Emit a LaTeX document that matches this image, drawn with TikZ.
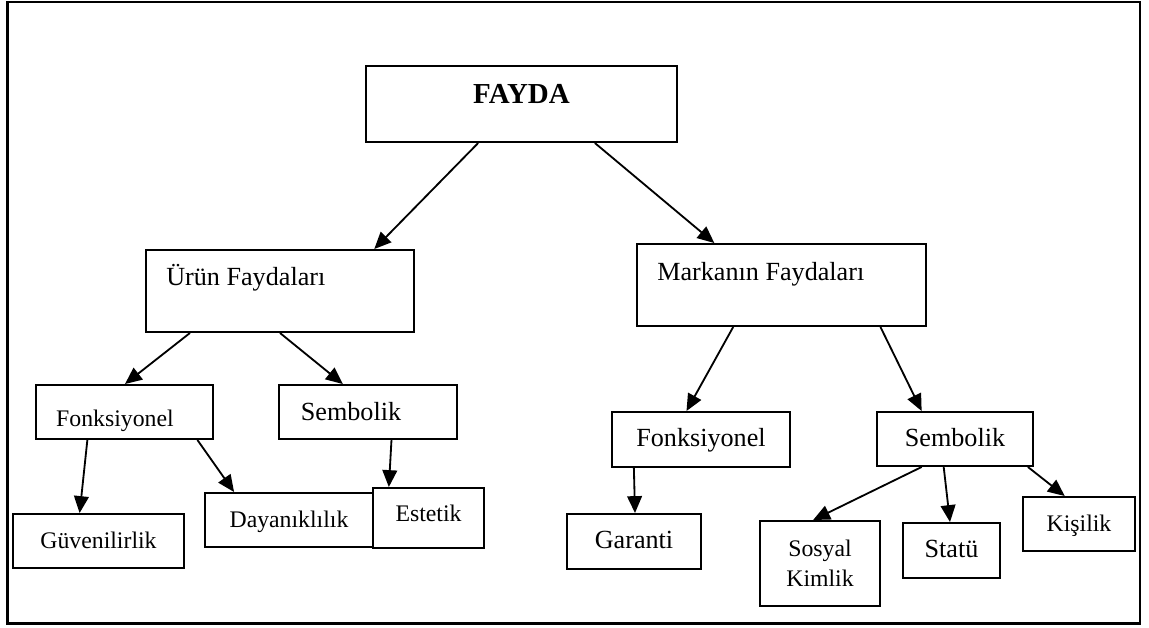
\documentclass[tikz,border=0pt]{standalone}
\usepackage{fontspec}
\setmainfont{Liberation Serif}
\usepackage{tikz}
\usetikzlibrary{arrows.meta}

\newlength{\pxl}
\setlength{\pxl}{0.025cm}
\newcommand{\fbig}{\fontsize{18.6}{22}\selectfont}
\newcommand{\fsmall}{\fontsize{16.9}{21.3}\selectfont}

\tikzset{
	box/.style={draw, line width=1.4pt, inner sep=0pt, text height=10pt, text depth=0pt},
	lbl/.style={inner sep=0pt},
	arr/.style={-{Triangle[length=12pt,width=10.5pt]}, line width=1.3pt}
}

\begin{document}
\begin{tikzpicture}[x=0.025cm, y=-0.025cm]
			\useasboundingbox (0,0) rectangle (1149,628);
			\draw[line width=1.6pt] (7.5,2) rectangle (1140,623.5);
			%
			\node[box, minimum width=311\pxl, minimum height=76\pxl,
				label={[lbl, font=\fontsize{20.6}{24}\selectfont\bfseries, yshift=9.6\pxl]center:FAYDA}]
				(fayda) at (521.5,104) {};
			\node[box, minimum width=268\pxl, minimum height=82\pxl,
				label={[lbl, anchor=west, font=\fbig, xshift=21\pxl, yshift=13.7\pxl]west:Ürün Faydaları}]
				(urun) at (280,291) {};
			\node[box, minimum width=289\pxl, minimum height=82\pxl,
				label={[lbl, anchor=west, font=\fbig, xshift=21\pxl, yshift=11\pxl]west:Markanın Faydaları}]
				(marka) at (781.5,285) {};
			%
			\node[box, minimum width=177\pxl, minimum height=54\pxl,
				label={[lbl, font=\fsmall, xshift=-9.5\pxl, yshift=-8.6\pxl]center:Fonksiyonel}]
				(fonkL) at (124.5,412) {};
			\node[box, minimum width=178\pxl, minimum height=54\pxl,
				label={[lbl, font=\fbig, xshift=-17\pxl]center:Sembolik}]
				(sembL) at (368,412) {};
			\node[box, font=\fsmall, minimum width=171\pxl, minimum height=54\pxl] (guven) at (98.5,541) {Güvenilirlik};
			\node[box, font=\fsmall, minimum width=168\pxl, minimum height=54\pxl] (dayan) at (289,520) {Dayanıklılık};
			\node[box, font=\fsmall, text height=4.3pt, minimum width=111\pxl, minimum height=60\pxl] (estetik) at (428.5,518) {Estetik};
			%
			\node[box, font=\fbig, minimum width=178\pxl, minimum height=55\pxl] (fonkR) at (701,439.5) {Fonksiyonel};
			\node[box, font=\fbig, minimum width=156\pxl, minimum height=54\pxl] (sembR) at (955,439) {Sembolik};
			\node[box, font=\fbig, minimum width=134\pxl, minimum height=55\pxl] (garanti) at (634,541.5) {Garanti};
			\node[box, font=\fsmall, text height={}, text depth={}, align=center,
				minimum width=120\pxl, minimum height=85\pxl] (sosyal) at (820,563.5) {Sosyal\\Kimlik};
			\node[box, font=\fbig, minimum width=97\pxl, minimum height=55\pxl] (statu) at (951.5,550.5) {Statü};
			\node[box, font=\fsmall, minimum width=112\pxl, minimum height=54\pxl] (kisilik) at (1079,524) {Kişilik};
			%
			\path[arr]
				(fayda.-138.2) edge (urun.24.7)
				(fayda.-28.3) edge (marka.148)
				(urun.-155.7) edge (fonkL.89)
				(urun.-90) edge (sembL.132.8)
				(fonkL.-143.5) edge (guven.124.4)
				(fonkL.-21.8) edge (dayan.153.9)
				(sembL.-50.8) edge (estetik.142.1)
				(marka.-139.8) edge (fonkR.117)
				(marka.-23) edge (sembR.140.7)
				(fonkR.-157.4) edge (garanti.88)
				(sembR.-140.7) edge (sosyal.99.4)
				(sembR.-112.2) edge (statu.93.1)
				(sembR.-21.7) edge (kisilik.117.4);
		\end{tikzpicture}
\end{document}
